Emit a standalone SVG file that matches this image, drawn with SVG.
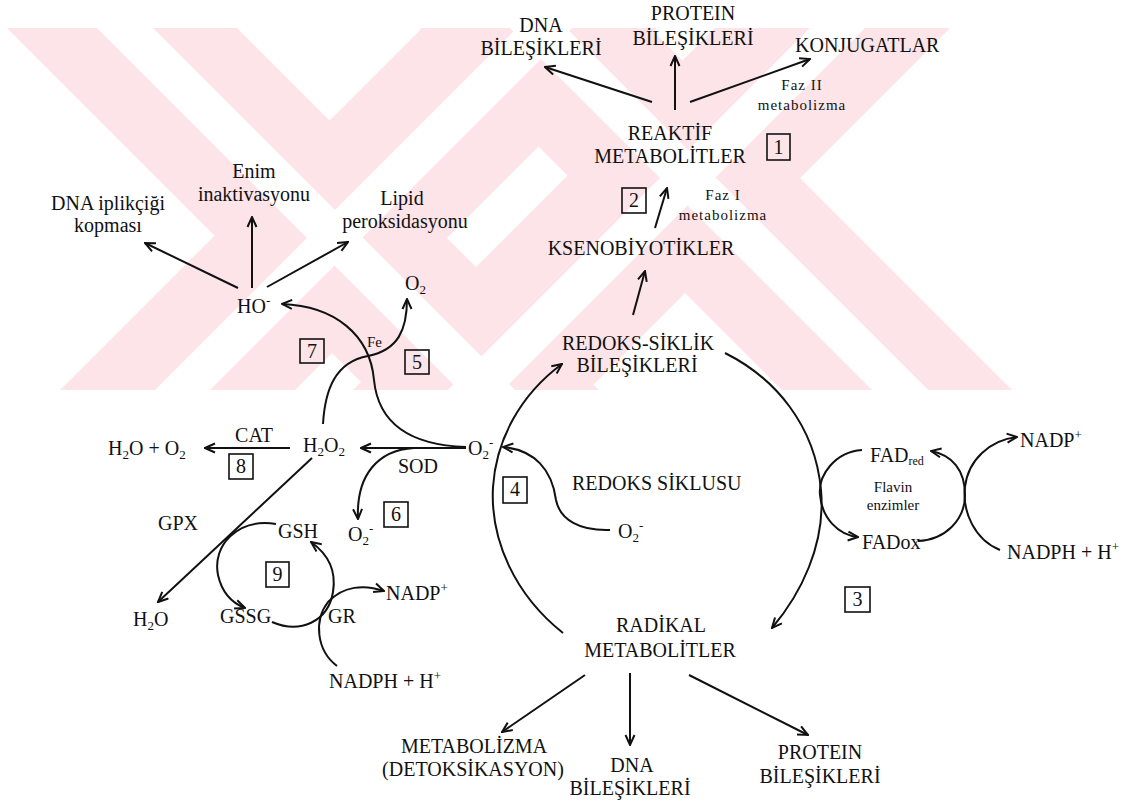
<svg xmlns="http://www.w3.org/2000/svg" width="1142" height="802" viewBox="0 0 1142 802">
<style>
.t{font-family:"Liberation Serif","Times New Roman",serif;font-size:20px;fill:#111}
.m{text-anchor:middle}
.s{font-size:15px;letter-spacing:1px}
.f{font-size:15px}
.sb{font-size:13px}
.ln{stroke:#111;stroke-width:2;fill:none}
.a{marker-end:url(#ah)}
.box{fill:none;stroke:#111;stroke-width:1.6}
.wm{fill:#FCE4E8}
.ww{fill:#FFFFFF}
</style>
<defs>
<marker id="ah" viewBox="0 0 12 12" refX="11" refY="6" markerWidth="12" markerHeight="12" markerUnits="userSpaceOnUse" orient="auto">
<path d="M1,1.5 L11,6 L1,10.5" fill="none" stroke="#111" stroke-width="2"/>
</marker>
<clipPath id="wmclip"><rect x="0" y="28" width="1142" height="362"/></clipPath>
</defs>
<rect width="1142" height="802" fill="#FFFFFF"/>
<g id="watermark" clip-path="url(#wmclip)">
<polygon class="wm" points="-21,0 209,0 629,420 399,420"/>
<polygon class="wm" points="392,0 622,0 1042,420 812,420"/>
<polygon class="wm" points="450,0 685,0 265,420 30,420"/>
<polygon class="wm" points="743,0 978,0 558,420 323,420"/>
<polygon class="ww" points="69,0 125,0 545,420 489,420"/>
<polygon class="ww" points="482,0 538,0 958,420 902,420"/>
<polygon class="ww" points="545,0 600,0 180,420 125,420"/>
<polygon class="ww" points="838,0 893,0 473,420 418,420"/>
</g>
<g id="connectors">
<line class="ln a" x1="652" y1="102" x2="545" y2="67"/>
<line class="ln a" x1="675" y1="110" x2="675" y2="56"/>
<line class="ln a" x1="690" y1="102" x2="810" y2="59"/>
<line class="ln a" x1="655" y1="228" x2="667" y2="188"/>
<line class="ln a" x1="633" y1="315" x2="645" y2="271"/>
<line class="ln a" x1="238" y1="288" x2="145" y2="243"/>
<line class="ln a" x1="252" y1="288" x2="252" y2="217"/>
<line class="ln a" x1="267" y1="287" x2="348" y2="242"/>
<path class="ln a" d="M466,447 C405,445 378,420 374,380 C370,335 335,306 282,304"/>
<path class="ln a" d="M323,424 C325,390 335,362 368,356 C398,350 407,330 407,299"/>
<line class="ln a" x1="466" y1="448" x2="361" y2="448"/>
<path class="ln a" d="M414,448 C378,450 356,475 358,519"/>
<line class="ln a" x1="290" y1="448" x2="205" y2="448"/>
<line class="ln a" x1="312" y1="458" x2="158" y2="602"/>
<path class="ln a" d="M276,524 C238,518 212,545 218,575 C222,593 232,603 245,608"/>
<path class="ln a" d="M272,622 C300,634 328,622 333,592 C337,568 325,552 311,542"/>
<path class="ln a" d="M337,666 C316,650 314,620 328,602 C343,586 364,584 384,591"/>
<path class="ln a" d="M563,633 C515,595 490,540 493,487 C496,440 520,395 562,364"/>
<path class="ln a" d="M725,353 C775,378 815,425 821,490 C826,545 800,595 772,628"/>
<path class="ln a" d="M862,450 C835,452 818,475 820,495 C822,518 838,535 858,537"/>
<path class="ln a" d="M918,541 C945,540 965,520 965,495 C965,470 952,455 931,451"/>
<path class="ln a" d="M1000,550 C975,540 962,512 965,487 C968,460 990,440 1017,437"/>
<path class="ln a" d="M610,530 C580,531 560,520 556,500 C552,470 535,450 503,447"/>
<line class="ln a" x1="585" y1="675" x2="502" y2="732"/>
<line class="ln a" x1="630" y1="673" x2="630" y2="745"/>
<line class="ln a" x1="689" y1="675" x2="808" y2="735"/>
</g>
<g id="n-dna-top"><text class="t m" x="541" y="32">DNA</text><text class="t m" x="541" y="55">BİLEŞİKLERİ</text></g>
<g id="n-protein-top"><text class="t m" x="693" y="20">PROTEIN</text><text class="t m" x="693" y="45">BİLEŞİKLERİ</text></g>
<g id="n-konjugatlar"><text class="t" x="795" y="52">KONJUGATLAR</text></g>
<g id="n-faz2"><text class="t s m" x="802" y="90">Faz II</text><text class="t s m" x="802" y="110">metabolizma</text></g>
<g id="n-reaktif"><text class="t m" x="670" y="140">REAKTİF</text><text class="t m" x="670" y="163">METABOLİTLER</text></g>
<g id="b1"><rect class="box" x="767" y="134" width="23" height="26"/><text class="t m" x="778.5" y="154" font-size="18">1</text></g>
<g id="b2"><rect class="box" x="622" y="188" width="24" height="25"/><text class="t m" x="634" y="207" font-size="18">2</text></g>
<g id="n-faz1"><text class="t s m" x="723" y="200">Faz I</text><text class="t s m" x="723" y="220">metabolizma</text></g>
<g id="n-kseno"><text class="t m" x="641" y="255">KSENOBİYOTİKLER</text></g>
<g id="n-redoks"><text class="t m" x="638" y="350">REDOKS-SİKLİK</text><text class="t m" x="637" y="372">BİLEŞİKLERİ</text></g>
<g id="n-enim"><text class="t m" x="254" y="178">Enim</text><text class="t m" x="254" y="201">inaktivasyonu</text></g>
<g id="n-dnakop"><text class="t m" x="108" y="210">DNA iplikçiği</text><text class="t m" x="108" y="232">kopması</text></g>
<g id="n-lipid"><text class="t m" x="402" y="205">Lipid</text><text class="t m" x="405" y="228">peroksidasyonu</text></g>
<g id="n-ho"><text class="t" x="237" y="313">HO<tspan class="sb" dy="-8">-</tspan></text></g>
<g id="n-o2"><text class="t" x="405" y="290">O<tspan class="sb" dy="4">2</tspan></text></g>
<g id="n-fe"><text class="t f" x="367" y="347">Fe</text></g>
<g id="b7"><rect class="box" x="300" y="339" width="24" height="24"/><text class="t m" x="312" y="358" font-size="18">7</text></g>
<g id="b5"><rect class="box" x="405" y="350" width="24" height="24"/><text class="t m" x="417" y="369" font-size="18">5</text></g>
<g id="n-h2oo2"><text class="t" x="108" y="455">H<tspan class="sb" dy="4">2</tspan><tspan dy="-4">O + O</tspan><tspan class="sb" dy="4">2</tspan></text></g>
<g id="n-cat"><text class="t m" x="254" y="442">CAT</text></g>
<g id="b8"><rect class="box" x="229" y="454" width="24" height="25"/><text class="t m" x="241" y="473" font-size="18">8</text></g>
<g id="n-h2o2"><text class="t" x="303" y="452">H<tspan class="sb" dy="4">2</tspan><tspan dy="-4">O</tspan><tspan class="sb" dy="4">2</tspan></text></g>
<g id="n-o2m"><text class="t" x="468" y="455">O<tspan class="sb" dy="4">2</tspan><tspan class="sb" dy="-12">-</tspan></text></g>
<g id="n-sod"><text class="t m" x="418" y="473">SOD</text></g>
<g id="n-o2-6"><text class="t" x="348" y="541">O<tspan class="sb" dy="4">2</tspan><tspan class="sb" dy="-12">-</tspan></text></g>
<g id="b6"><rect class="box" x="384" y="502" width="24" height="25"/><text class="t m" x="396" y="521" font-size="18">6</text></g>
<g id="n-gpx"><text class="t" x="158" y="530">GPX</text></g>
<g id="n-h2o"><text class="t" x="133" y="626">H<tspan class="sb" dy="4">2</tspan><tspan dy="-4">O</tspan></text></g>
<g id="n-gsh"><text class="t" x="278" y="538">GSH</text></g>
<g id="n-gssg"><text class="t" x="220" y="623">GSSG</text></g>
<g id="b9"><rect class="box" x="266" y="562" width="23" height="25"/><text class="t m" x="277.5" y="581" font-size="18">9</text></g>
<g id="n-gr"><text class="t" x="328" y="623">GR</text></g>
<g id="n-nadp-l"><text class="t" x="386" y="600">NADP<tspan class="sb" dy="-8">+</tspan></text></g>
<g id="n-nadph-l"><text class="t" x="329" y="688">NADPH + H<tspan class="sb" dy="-8">+</tspan></text></g>
<g id="b4"><rect class="box" x="503" y="477" width="24" height="26"/><text class="t m" x="515" y="496" font-size="18">4</text></g>
<g id="n-redsik"><text class="t" x="572" y="490">REDOKS SİKLUSU</text></g>
<g id="n-o2-4"><text class="t" x="618" y="538">O<tspan class="sb" dy="4">2</tspan><tspan class="sb" dy="-12">-</tspan></text></g>
<g id="n-fadred"><text class="t" x="870" y="462">FAD<tspan font-size="12" dy="3">red</tspan></text></g>
<g id="n-flavin"><text class="t f m" x="893" y="492">Flavin</text><text class="t f m" x="893" y="510">enzimler</text></g>
<g id="n-fadox"><text class="t" x="862" y="549">FADox</text></g>
<g id="n-nadp-r"><text class="t" x="1020" y="447">NADP<tspan class="sb" dy="-8">+</tspan></text></g>
<g id="n-nadph-r"><text class="t" x="1007" y="559">NADPH + H<tspan class="sb" dy="-8">+</tspan></text></g>
<g id="b3"><rect class="box" x="845" y="587" width="25" height="25"/><text class="t m" x="857.5" y="606" font-size="18">3</text></g>
<g id="n-radikal"><text class="t m" x="661" y="632">RADİKAL</text><text class="t m" x="660" y="657">METABOLİTLER</text></g>
<g id="n-metab"><text class="t m" x="474" y="753">METABOLİZMA</text><text class="t m" x="473" y="776">(DETOKSİKASYON)</text></g>
<g id="n-dna-bot"><text class="t m" x="632" y="772">DNA</text><text class="t m" x="630" y="795">BİLEŞİKLERİ</text></g>
<g id="n-protein-bot"><text class="t m" x="820" y="759">PROTEIN</text><text class="t m" x="820" y="783">BİLEŞİKLERİ</text></g>
</svg>
